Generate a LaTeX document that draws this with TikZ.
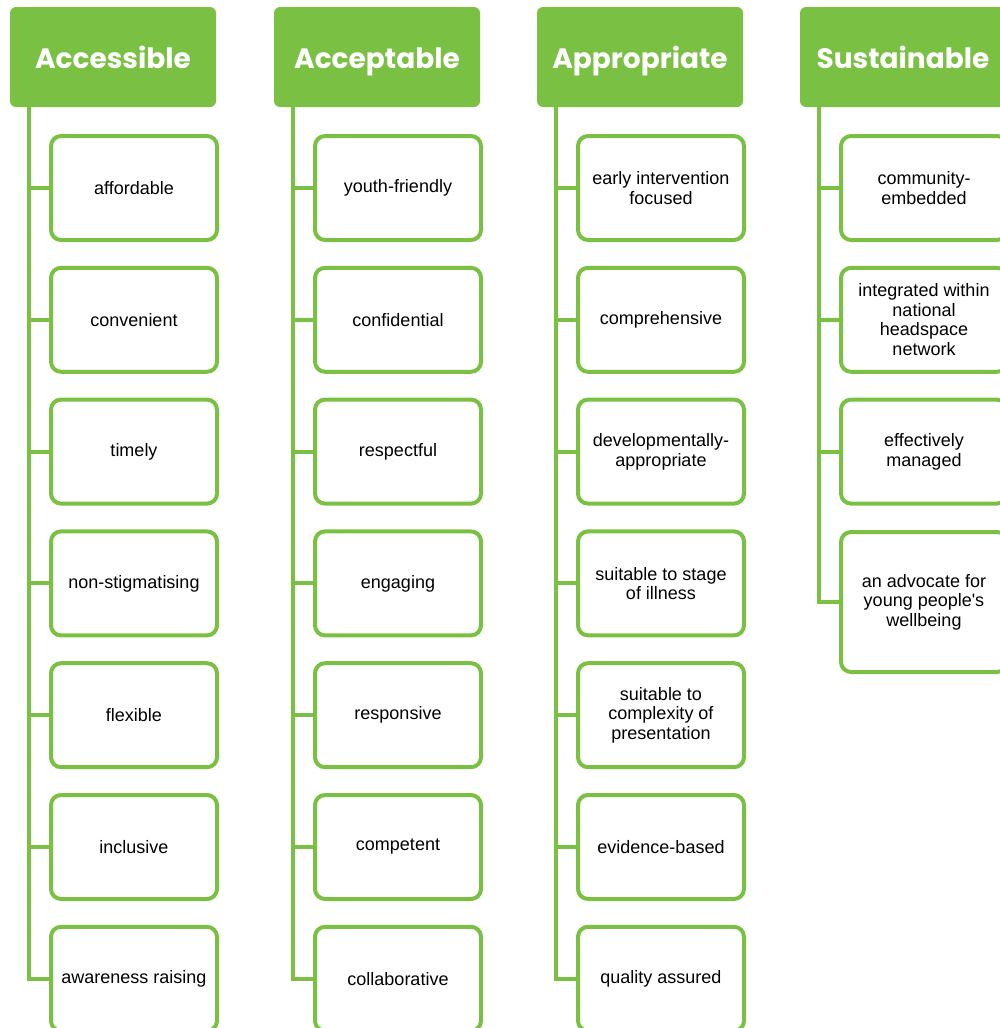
\documentclass[tikz,border=0pt]{standalone}
\usepackage{fontspec}
\setmainfont{Liberation Sans}
\newfontfamily\hfont{Poppins}
\definecolor{hsgreen}{HTML}{7AC143}
\begin{document}
\begin{tikzpicture}[x=1pt,y=-1pt,
 head/.style={fill=hsgreen, rounded corners=6pt, minimum width=206pt, minimum height=100pt, inner sep=0pt,
   text=white, text height=22pt, text depth=0pt, font=\hfont\bfseries\fontsize{28}{30}\selectfont},
 item/.style={draw=hsgreen, line width=4pt, rounded corners=10pt, fill=white, minimum width=166pt,
   minimum height=104pt, align=center, font=\fontsize{18}{19.5}\selectfont, inner sep=2pt, text=black},
 conn/.style={draw=hsgreen, line width=4pt}]
\useasboundingbox (0,0) rectangle (1000,1028);
\clip (0,0) rectangle (1000,1028);
% headers
\node[head] (hA) at (113,57) {Accessible\hspace{8pt}};
\node[head] (hB) at (377,57) {Acceptable\hspace{8pt}};
\node[head] (hC) at (640,57) {Appropriate\hspace{4pt}};
\node[head] (hD) at (903,57) {Sustainable\hspace{6pt}};
% items
\foreach [count=\i] \t in {affordable, convenient, timely, non-stigmatising, flexible, inclusive, awareness raising}
  \node[item] (A\i) at (134,{188+(\i-1)*131.8}) {\t};
\foreach [count=\i] \t in {youth-friendly, confidential, respectful, engaging, responsive, competent, collaborative}
  \node[item] (B\i) at (398,{188+(\i-1)*131.8}) {\t};
\foreach [count=\i] \t in {{early intervention\\focused}, comprehensive, {developmentally-\\appropriate},
    {suitable to stage\\of illness}, {suitable to\\complexity of\\presentation}, evidence-based, quality assured}
  \node[item] (C\i) at (661,{188+(\i-1)*131.8}) {\t};
\foreach [count=\i] \t in {{community-\\embedded}, {integrated within\\national\\headspace\\network}, {effectively\\managed}}
  \node[item] (D\i) at (924,{188+(\i-1)*131.8}) {\t};
\node[item, minimum height=140pt] (D4) at (924,602) {an advocate for\\young people\textquotesingle s\\wellbeing};
% connectors
\foreach \c/\n in {A/7, B/7, C/7, D/4} {
  \coordinate (l\c) at ([xshift=19pt]h\c.south west);
  \draw[conn] (l\c) |- (\c\n.west);
}
\foreach \c/\n in {A/6, B/6, C/6, D/3}
  \foreach \i in {1,...,\n}
    \draw[conn] (\c\i.west) -- (\c\i.west -| l\c);
\end{tikzpicture}
\end{document}
